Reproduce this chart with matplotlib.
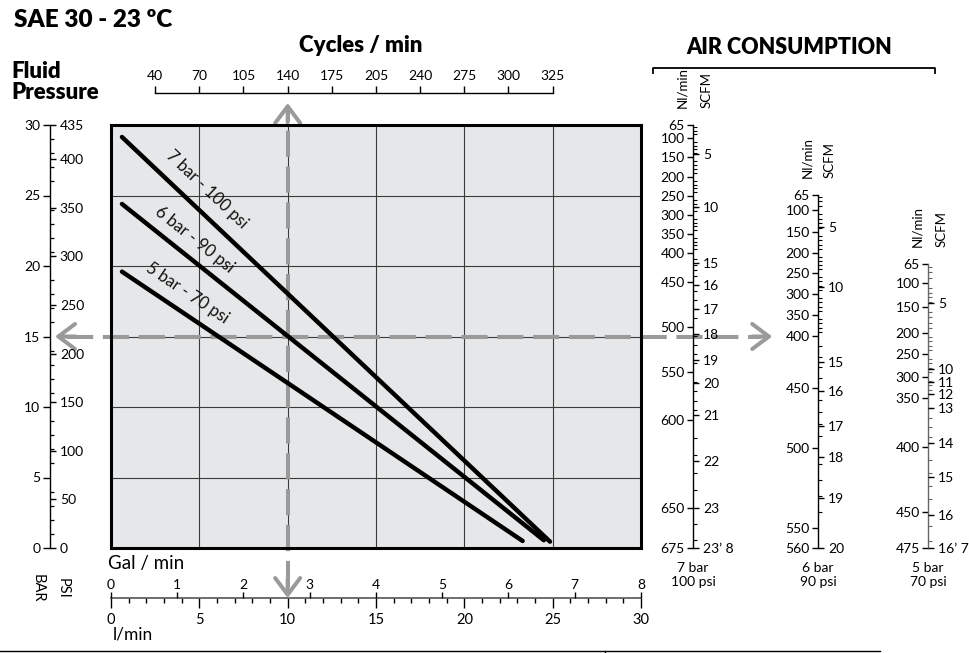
import numpy as np
import matplotlib.pyplot as plt
from matplotlib.lines import Line2D

plt.rcParams['font.family'] = ['Lato', 'DejaVu Sans']

W, H = 969, 653

# performance lines: flow (l/min) vs fluid pressure (bar)
lmin_7 = [0.62, 24.85]
bar_7 = [29.15, 0.45]
lmin_6 = [0.62, 24.5]
bar_6 = [24.4, 0.55]
lmin_5 = [0.62, 23.3]
bar_5 = [19.6, 0.5]
line_labels = ['7 bar - 100 psi', '6 bar - 90 psi', '5 bar - 70 psi']
label_pos = [(5.4, 25.45), (4.7, 21.9), (4.3, 18.05)]

# pressure axis
bar_ticks = [0, 5, 10, 15, 20, 25, 30]
psi_ticks = [0, 50, 100, 150, 200, 250, 300, 350, 400, 435]

# flow axes
lmin_ticks = [0, 5, 10, 15, 20, 25, 30]
gal_ticks = [0, 1, 2, 3, 4, 5, 6, 7, 8]
cycles = [40, 70, 105, 140, 175, 205, 240, 275, 300, 325]
cycles_lmin = [2.5, 5, 7.5, 10, 12.5, 15, 17.5, 20, 22.5, 25]

# working point (arrows)
work_lmin = 10
work_bar = 15

# air consumption scales, positions expressed on the fluid pressure scale (bar)
air7_nl = [65, 100, 150, 200, 250, 300, 350, 400, 450, 500, 550, 600, 650, 675]
air7_nl_bar = [30.0, 29.08, 27.73, 26.31, 24.96, 23.62, 22.27, 20.92, 18.87,
               15.67, 12.48, 9.08, 2.84, 0.0]
air7_scfm = ['5', '10', '15', '16', '17', '18', '19', '20', '21', '22', '23', '23\u2019 8']
air7_scfm_bar = [27.94, 24.18, 20.21, 18.65, 16.95, 15.18, 13.33, 11.70, 9.43,
                 6.17, 2.84, 0.0]

air6_nl = [65, 100, 150, 200, 250, 300, 350, 400, 450, 500, 550, 560]
air6_nl_bar = [25.04, 23.97, 22.41, 20.92, 19.50, 18.01, 16.52, 15.04, 11.35,
               7.09, 1.42, 0.0]
air6_scfm = ['5', '10', '15', '16', '17', '18', '19', '20']
air6_scfm_bar = [22.77, 18.51, 13.19, 11.13, 8.65, 6.45, 3.55, 0.0]

air5_nl = [65, 100, 150, 200, 250, 300, 350, 400, 450, 475]
air5_nl_bar = [20.14, 18.79, 17.09, 15.25, 13.76, 12.13, 10.64, 7.16, 2.55, 0.0]
air5_scfm = ['5', '10', '11', '12', '13', '14', '15', '16', '16\u2019 7']
air5_scfm_bar = [17.38, 12.70, 11.77, 10.92, 9.93, 7.45, 5.04, 2.34, 0.0]

TICK_FS = 10


def fx(px):
    return px / W


def fy(py):
    return 1 - py / H


fig = plt.figure(figsize=(W / 100, H / 100), dpi=100)

# ---- main chart ----
ax = fig.add_axes([fx(111), fy(548), 530 / W, 423 / H])
ax.set_xlim(0, 30)
ax.set_ylim(0, 30)
ax.set_facecolor('#e6e7e8')
ax.set_xticks(lmin_ticks)
ax.set_yticks(bar_ticks)
ax.tick_params(length=0, labelbottom=False, labelleft=False)
ax.grid(True, color='#3a3a3a', lw=0.8)
for s in ax.spines.values():
    s.set_linewidth(2.2)
    s.set_color('black')
    s.set_zorder(5)

for xs, ys in [(lmin_7, bar_7), (lmin_6, bar_6), (lmin_5, bar_5)]:
    ax.plot(xs, ys, color='black', lw=3.2, solid_capstyle='round', zorder=4)

for (xs, ys), txt, (tx, ty) in zip([(lmin_7, bar_7), (lmin_6, bar_6), (lmin_5, bar_5)],
                                   line_labels, label_pos):
    p0 = ax.transData.transform((xs[0], ys[0]))
    p1 = ax.transData.transform((xs[1], ys[1]))
    ang = np.degrees(np.arctan2(p1[1] - p0[1], p1[0] - p0[0]))
    ax.text(tx, ty, txt, rotation=ang, rotation_mode='anchor', ha='center',
            va='center', fontsize=12, color='#111111', zorder=6)

# dashed gray arrows through the working point
gray = '#9a9a9a'
dash = (0, (6.5, 2.4))
ax.plot([work_lmin, work_lmin], [-2.8, 31.0], color=gray, lw=2.9, ls=dash,
        clip_on=False, zorder=3)
ax.plot([-2.5, 36.8], [work_bar, work_bar], color=gray, lw=2.9, ls=dash,
        clip_on=False, zorder=3)
arrow_kw = dict(arrowstyle='->,head_length=0.6,head_width=0.45', color=gray,
                lw=2.9, mutation_scale=20, shrinkA=0, shrinkB=0)
for tip, tail in [((work_lmin, 31.56), (work_lmin, 30.2)),
                  ((work_lmin, -3.55), (work_lmin, -2.2)),
                  ((-3.17, work_bar), (-2.0, work_bar)),
                  ((37.43, work_bar), (36.3, work_bar))]:
    ax.annotate('', xy=tip, xytext=tail, arrowprops=arrow_kw,
                annotation_clip=False, zorder=3)

# ---- pressure axis (bar / psi) ----
axp = fig.add_axes([fx(50), fy(548), 1e-4, 423 / H])
axp.patch.set_visible(False)
axp.set_ylim(0, 30)
axp.set_xticks([])
for s in ['top', 'right', 'bottom']:
    axp.spines[s].set_visible(False)
axp.spines['left'].set_linewidth(1)
axp.set_yticks(bar_ticks)
axp.set_yticks(np.arange(0, 31, 1), minor=True)
axp.tick_params(axis='y', which='major', direction='out', length=5, width=1,
                pad=2, labelsize=TICK_FS)
axp.tick_params(axis='y', which='minor', direction='in', length=3, width=0.9)
axq = axp.twinx()
axq.set_ylim(0, 435)
for s in axq.spines.values():
    s.set_visible(False)
axq.set_yticks(psi_ticks)
axq.tick_params(axis='y', direction='out', length=4, width=1, pad=3, labelsize=TICK_FS)

# ---- flow axis (l/min below, gal/min above) ----
axb = fig.add_axes([fx(111), fy(598), 530 / W, 1e-4])
axb.patch.set_visible(False)
axb.set_xlim(0, 30)
axb.set_yticks([])
for s in ['top', 'right', 'left']:
    axb.spines[s].set_visible(False)
axb.spines['bottom'].set_linewidth(1.2)
axb.spines['bottom'].set_color('#555555')
axb.set_xticks(lmin_ticks)
axb.set_xticks(np.arange(0, 31, 1), minor=True)
axb.tick_params(axis='x', which='major', direction='out', length=7, width=1,
                pad=4, labelsize=TICK_FS + 0.5)
axb.tick_params(axis='x', which='minor', direction='out', length=3.5, width=1)
axg = axb.twiny()
axg.set_xlim(0, 8)
for s in axg.spines.values():
    s.set_visible(False)
axg.set_xticks(gal_ticks)
axg.tick_params(axis='x', direction='out', length=4, width=1, pad=1, labelsize=TICK_FS)

# ---- cycles axis ----
axc = fig.add_axes([fx(111), fy(93), 530 / W, 1e-4])
axc.patch.set_visible(False)
axc.set_xlim(0, 30)
axc.set_yticks([])
for s in ['bottom', 'right', 'left']:
    axc.spines[s].set_visible(False)
axc.spines['top'].set_bounds(cycles_lmin[0], cycles_lmin[-1])
axc.spines['top'].set_linewidth(1)
axc.xaxis.tick_top()
axc.set_xticks(cycles_lmin)
axc.set_xticklabels([str(c) for c in cycles])
axc.tick_params(axis='x', direction='out', length=5, width=1, pad=3, labelsize=TICK_FS)


# ---- air consumption scales ----
def air_scale(xpx, nl, nl_bar, scfm, scfm_bar, col):
    a = fig.add_axes([fx(xpx), fy(548), 1e-4, 423 / H])
    a.patch.set_visible(False)
    a.set_ylim(0, 30)
    a.set_xticks([])
    for s in ['top', 'right', 'bottom']:
        a.spines[s].set_visible(False)
    a.spines['left'].set_bounds(0, nl_bar[0])
    a.spines['left'].set_color(col)
    a.spines['left'].set_linewidth(1)
    a.set_yticks(nl_bar)
    a.set_yticklabels([str(v) for v in nl])
    a.tick_params(axis='y', which='major', direction='out', length=4, width=1,
                  pad=2, labelsize=TICK_FS)
    # small marks every 10 Nl/min along the scale
    minor = np.interp(np.arange(70, nl[-1], 10), nl, nl_bar)
    a.set_yticks(minor, minor=True)
    a.tick_params(axis='y', which='minor', direction='in', length=3, width=0.8,
                  color=col)
    b = a.twinx()
    b.set_ylim(0, 30)
    for s in b.spines.values():
        s.set_visible(False)
    b.set_yticks(scfm_bar)
    b.set_yticklabels(scfm)
    b.tick_params(axis='y', direction='out', length=4, width=1, pad=3, labelsize=TICK_FS)


air_scale(693, air7_nl, air7_nl_bar, air7_scfm, air7_scfm_bar, 'black')
air_scale(818, air6_nl, air6_nl_bar, air6_scfm, air6_scfm_bar, 'black')
air_scale(928, air5_nl, air5_nl_bar, air5_scfm, air5_scfm_bar, '#666666')

for xn, xs, yb in [(682, 707, 108), (807, 830, 178), (917, 942, 247)]:
    fig.text(fx(xn), fy(yb), 'Nl/min', rotation=90, ha='center', va='bottom', fontsize=9.5)
    fig.text(fx(xs), fy(yb), 'SCFM', rotation=90, ha='center', va='bottom', fontsize=9.5)

for xc, txt in [(693, '7 bar\n100 psi'), (818, '6 bar\n90 psi'), (928, '5 bar\n70 psi')]:
    fig.text(fx(xc), fy(575), txt, ha='center', va='center', fontsize=10,
             linespacing=1.2)

# ---- titles and labels ----
fig.text(fx(14), fy(20), 'SAE 30 - 23 \u00baC', fontsize=17.5, fontweight='heavy',
         ha='left', va='center')
fig.text(fx(11), fy(82), 'Fluid\nPressure', fontsize=16, fontweight='heavy',
         ha='left', va='center', linespacing=1.0)
fig.text(fx(361), fy(46), 'Cycles / min', fontsize=16, fontweight='heavy',
         ha='center', va='center')
fig.text(fx(789), fy(47), 'AIR CONSUMPTION', fontsize=15.5, fontweight='heavy',
         ha='center', va='center')
fig.add_artist(Line2D([fx(653), fx(653), fx(935), fx(935)],
                      [fy(73), fy(68), fy(68), fy(73)], color='black', lw=1.3))

fig.text(fx(108), fy(564), 'Gal / min', fontsize=13.5, ha='left', va='center')
fig.text(fx(113), fy(634), 'l/min', fontsize=12.5, ha='left', va='center')
fig.text(fx(38), fy(588), 'BAR', rotation=270, fontsize=10.5, ha='center', va='center')
fig.text(fx(63), fy(588), 'PSI', rotation=270, fontsize=10.5, ha='center', va='center')

# table edge at the bottom
fig.add_artist(Line2D([0, fx(880)], [fy(651), fy(651)], color='black', lw=1))
fig.add_artist(Line2D([fx(605), fx(605)], [fy(651), 0], color='black', lw=1))

fig.savefig('out.png', dpi=100)
